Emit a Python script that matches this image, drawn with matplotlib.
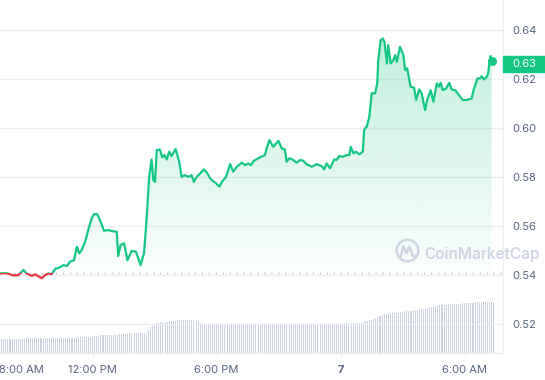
import numpy as np
import matplotlib
matplotlib.use("Agg")
import matplotlib.pyplot as plt
import matplotlib.transforms as mtransforms
from matplotlib.patches import Rectangle, Circle
from matplotlib.path import Path
from matplotlib.patches import PathPatch

plt.rcParams['font.family'] = ['Inter', 'DejaVu Sans']

# price, 24h window (times after midnight belong to the 7th)
times = ["07:31", "07:50", "08:10", "08:24", "08:39", "08:48", "09:03", "09:13", "09:22", "09:32",
         "09:42", "09:51", "10:01", "10:11", "10:25", "10:35", "10:45", "10:54", "11:06", "11:14",
         "11:21", "11:28", "11:38", "11:47", "11:57", "12:04", "12:13", "12:21", "12:33", "12:45",
         "12:55", "13:10", "13:14", "13:21", "13:31", "13:41", "13:53", "14:06", "14:19", "14:29",
         "14:36", "14:39", "14:44", "14:51", "14:56", "15:01", "15:06", "15:15", "15:22", "15:28",
         "15:35", "15:42", "15:49", "16:01", "16:11", "16:18", "16:28", "16:38", "16:47", "16:54",
         "17:02", "17:14", "17:23", "17:33", "17:41", "17:48", "17:58", "18:08", "18:15", "18:27",
         "18:39", "18:48", "18:58", "19:13", "19:22", "19:32", "19:39", "19:48", "20:06", "20:20",
         "20:25", "20:33", "20:44", "20:59", "21:09", "21:18", "21:23", "21:31", "21:42", "21:52",
         "22:02", "22:11", "22:21", "22:36", "22:50", "23:05", "23:12", "23:19", "23:29", "23:41",
         "23:48", "23:56", "00:06", "00:17", "00:25", "00:29", "00:37", "00:44", "00:54", "01:04",
         "01:08", "01:16", "01:23", "01:30", "01:40", "01:46", "01:49", "01:56", "02:02", "02:07",
         "02:14", "02:18", "02:25", "02:33", "02:38", "02:43", "02:52", "03:02", "03:07", "03:13",
         "03:23", "03:33", "03:39", "03:48", "03:55", "04:00", "04:05", "04:11", "04:21", "04:29",
         "04:39", "04:45", "04:50", "04:56", "05:06", "05:15", "05:22", "05:32", "05:41", "05:54",
         "06:06", "06:20", "06:27", "06:37", "06:44", "06:49", "06:56", "07:04", "07:08", "07:12",
         "07:15", "07:18"]

prices = [0.5408, 0.5409, 0.5400, 0.5401, 0.5422, 0.5408, 0.5398, 0.5404, 0.5397, 0.5388,
          0.5401, 0.5408, 0.5405, 0.5426, 0.5433, 0.5442, 0.5438, 0.5456, 0.5462, 0.5517,
          0.5490, 0.5503, 0.5537, 0.5585, 0.5633, 0.5650, 0.5650, 0.5626, 0.5582, 0.5585,
          0.5581, 0.5578, 0.5479, 0.5524, 0.5531, 0.5462, 0.5500, 0.5496, 0.5442, 0.5490,
          0.5618, 0.5687, 0.5802, 0.5873, 0.5789, 0.5782, 0.5911, 0.5914, 0.5882, 0.5891,
          0.5873, 0.5905, 0.5887, 0.5916, 0.5864, 0.5802, 0.5809, 0.5802, 0.5809, 0.5782,
          0.5802, 0.5819, 0.5833, 0.5816, 0.5796, 0.5786, 0.5776, 0.5762, 0.5782, 0.5802,
          0.5854, 0.5823, 0.5843, 0.5860, 0.5850, 0.5857, 0.5850, 0.5868, 0.5882, 0.5891,
          0.5918, 0.5952, 0.5925, 0.5949, 0.5918, 0.5914, 0.5864, 0.5878, 0.5871, 0.5860,
          0.5871, 0.5868, 0.5854, 0.5843, 0.5854, 0.5846, 0.5833, 0.5857, 0.5837, 0.5873,
          0.5871, 0.5887, 0.5884, 0.5891, 0.5891, 0.5925, 0.5898, 0.5905, 0.5894, 0.5905,
          0.5993, 0.6009, 0.6047, 0.6143, 0.6143, 0.6184, 0.6279, 0.6360, 0.6367, 0.6353,
          0.6265, 0.6340, 0.6265, 0.6279, 0.6299, 0.6272, 0.6333, 0.6299, 0.6238, 0.6245,
          0.6170, 0.6166, 0.6116, 0.6159, 0.6143, 0.6109, 0.6075, 0.6116, 0.6156, 0.6109,
          0.6184, 0.6170, 0.6186, 0.6156, 0.6163, 0.6186, 0.6159, 0.6156, 0.6140, 0.6116,
          0.6116, 0.6122, 0.6163, 0.6204, 0.6204, 0.6213, 0.6200, 0.6211, 0.6225, 0.6271,
          0.6295, 0.6275]

# volume bars, one every 6 minutes from 07:30 (millions)
vol_start = 7.5
vol_step = 0.1
volume = [28.3, 28.3, 28.3, 28.3, 28.3, 28.3, 28.3, 28.3, 28.3, 28.3, 28.3, 28.3, 28.3,
          30.3, 30.3, 30.3, 30.3, 30.3, 30.3, 30.3, 30.3, 30.3, 30.3, 30.3, 30.3, 30.3,
          30.3, 30.3, 30.3, 30.3, 30.3, 30.3, 30.3, 30.3, 30.3, 30.3, 30.3, 30.3,
          32.3, 32.3, 32.3, 32.3, 32.3, 32.3, 32.3,
          34.3, 34.3, 34.3, 34.3,
          36.3, 36.3, 36.3, 36.3, 36.3, 36.3, 36.3, 36.3, 36.3,
          38.8, 38.8, 38.8, 38.8,
          40.2, 40.2, 40.2, 40.2, 40.2, 40.2, 40.2, 40.2, 40.2, 40.2,
          46.2, 51.5, 54.7, 56.7, 59.4, 60.6,
          62.0, 62.0, 62.0, 62.0, 64.0, 64.0, 64.0, 64.0,
          66.0, 66.0, 66.0, 66.0, 66.0, 66.0, 66.0, 66.0, 66.0, 66.0,
          62.0, 60.6, 60.0, 59.0, 59.0,
          58.1, 58.1, 58.1, 58.1, 58.1, 58.1, 58.1, 58.1, 58.1, 58.1, 58.1,
          58.1, 58.1, 58.1, 58.1, 58.1, 58.1, 58.1, 58.1, 58.1, 58.1, 58.1,
          58.1, 58.1, 58.1, 58.1, 58.1, 58.1, 58.1, 58.1, 58.1, 58.1, 58.1,
          58.1, 58.1, 58.1, 58.1, 58.1, 58.1, 58.1, 58.1, 58.1, 60.0, 58.1,
          58.1, 58.1, 58.1, 58.1, 58.1, 58.1, 58.1, 58.1, 58.1, 58.1, 58.1,
          58.1, 58.1, 58.1, 58.1, 58.1, 58.1, 58.1, 58.1, 58.1, 58.1, 58.1,
          60.0, 60.0, 60.0, 60.0, 60.0, 60.0, 60.0, 60.0,
          61.0, 62.0, 63.4, 64.0, 65.0, 66.5, 68.0, 70.0, 72.0, 74.0, 76.0,
          77.0, 77.5, 78.0, 79.0, 80.0, 80.0, 80.3, 80.4, 81.5, 82.4, 83.0,
          83.5, 83.8, 84.5, 85.2, 85.5, 86.0, 86.4, 87.0, 87.8, 88.5, 89.5,
          90.5, 91.5, 92.5, 93.5, 94.3, 95.0, 95.5, 96.0, 96.5, 97.0, 97.1,
          97.7, 97.7, 97.7, 97.7, 97.7,
          99.1, 99.1, 99.1, 99.1, 99.1, 99.1,
          101.0, 101.0, 101.0, 101.0, 101.0, 101.0,
          102.2, 102.2, 102.2, 102.2]

y_ticks = [0.52, 0.54, 0.56, 0.58, 0.60, 0.62, 0.64]
x_ticks = [8, 12, 18, 24, 30]
x_labels = ["8:00 AM", "12:00 PM", "6:00 PM", "7", "6:00 AM"]

GREEN = "#16c784"
RED = "#ea3943"
LABEL = "#58667e"
LIGHT = "#eceff3"


def to_hours(ts):
    out, day, prev = [], 0, -1
    for s in ts:
        hh, mm = s.split(":")
        h = int(hh) + int(mm) / 60 + day
        if h < prev:
            day += 24
            h += 24
        out.append(h)
        prev = h
    return np.array(out)


t = to_hours(times)
p = np.array(prices)
base = p[0]
vol_t = vol_start + vol_step * np.arange(len(volume))

xlim = (7.516, 31.866)
ylim = (0.5082, 0.6524)

fig = plt.figure(figsize=(5.45, 3.8), dpi=100)
rect = [0, 1 - 353.3 / 380, 503.3 / 545, 353.3 / 380]

# volume underneath
ax_vol = fig.add_axes(rect)
ax_vol.bar(vol_t, volume, width=0.05, color="#cbd2e0", linewidth=0)
ax_vol.set_xlim(*xlim)
ax_vol.set_ylim(0, 700)
ax_vol.axis("off")

ax = fig.add_axes(rect)
ax.patch.set_visible(False)
ax.set_xlim(*xlim)
ax.set_ylim(*ylim)

# gradient fill between line and open price
poly = ax.fill_between(t, np.maximum(p, base), base, color="none", linewidth=0)
grad = np.zeros((256, 1, 4))
grad[..., :3] = matplotlib.colors.to_rgb(GREEN)
grad[:, 0, 3] = np.linspace(0.31, 0.02, 256)
im = ax.imshow(grad, extent=[xlim[0], xlim[1], base, ylim[1]], origin="upper",
               aspect="auto", zorder=1, interpolation="bilinear")
im.set_clip_path(poly.get_paths()[0], transform=ax.transData)
ax.fill_between(t, np.minimum(p, base), base, color=RED, alpha=0.06, linewidth=0)

ax.axhline(base, color="#a6b0c3", lw=1, ls=(0, (0.8, 4.2)), zorder=2)

up, = ax.plot(t, p, color=GREEN, lw=1.6, zorder=3, solid_joinstyle="round")
up.set_clip_path(Rectangle((xlim[0], base), xlim[1] - xlim[0], 1, transform=ax.transData))
dn, = ax.plot(t, p, color=RED, lw=1.6, zorder=3, solid_joinstyle="round")
dn.set_clip_path(Rectangle((xlim[0], base - 1), xlim[1] - xlim[0], 1, transform=ax.transData))
ax.plot(t[-1], p[-1], "o", ms=5.5, color=GREEN, zorder=4, clip_on=False)

# axes styling
ax.set_yticks(y_ticks)
ax.set_yticklabels([f"{v:.2f}" for v in y_ticks])
ax.yaxis.tick_right()
ax.grid(axis="y", color=LIGHT, lw=1)
ax.set_axisbelow(True)
ax.tick_params(axis="y", length=0, pad=6.5, labelcolor=LABEL, labelsize=8)
ax.set_xticks(x_ticks)
ax.set_xticklabels(x_labels)
ax.tick_params(axis="x", length=2.2, width=0.8, color=LIGHT, pad=6, labelcolor=LABEL, labelsize=8)
for s in ["top", "left"]:
    ax.spines[s].set_visible(False)
for s in ["right", "bottom"]:
    ax.spines[s].set_color(LIGHT)
    ax.spines[s].set_linewidth(1)
xl = ax.get_xticklabels()
xl[0].set_transform(xl[0].get_transform() + mtransforms.ScaledTranslation(0.11, 0, fig.dpi_scale_trans))
xl[3].set_fontweight("bold")

# current price tag
blend = mtransforms.blended_transform_factory(fig.transFigure, ax.transData)
tag_h = 0.00653
tag_y = p[-1] - 0.0011
ax.add_patch(Rectangle((503.3 / 545, tag_y - tag_h / 2), 1 - 503.3 / 545, tag_h,
                       transform=blend, color=GREEN, clip_on=False, zorder=5))
ax.text(524 / 545, tag_y, f"{p[-1]:.2f}", transform=blend, ha="center", va="center",
        color="white", fontsize=8, zorder=6, clip_on=False)

# watermark
ov = fig.add_axes([0, 0, 1, 1])
ov.set_xlim(0, 545)
ov.set_ylim(380, 0)
ov.axis("off")
ov.patch.set_visible(False)
WM = "#cfd5e2"
ov.add_patch(Circle((407.5, 250.5), 10.8, fill=False, lw=1.8, color=WM))
logo = Path([(400.5, 256.5), (403.5, 246.5), (406.5, 253.5), (409.5, 246.5), (412.5, 255.5), (415.5, 257)])
ov.add_patch(PathPatch(logo, fill=False, lw=1.8, color=WM, capstyle="round", joinstyle="round"))
ov.text(424, 254, "CoinMarketCap", color=WM, fontsize=11, fontweight="semibold", va="center", ha="left")

fig.savefig("out.png", dpi=100)
